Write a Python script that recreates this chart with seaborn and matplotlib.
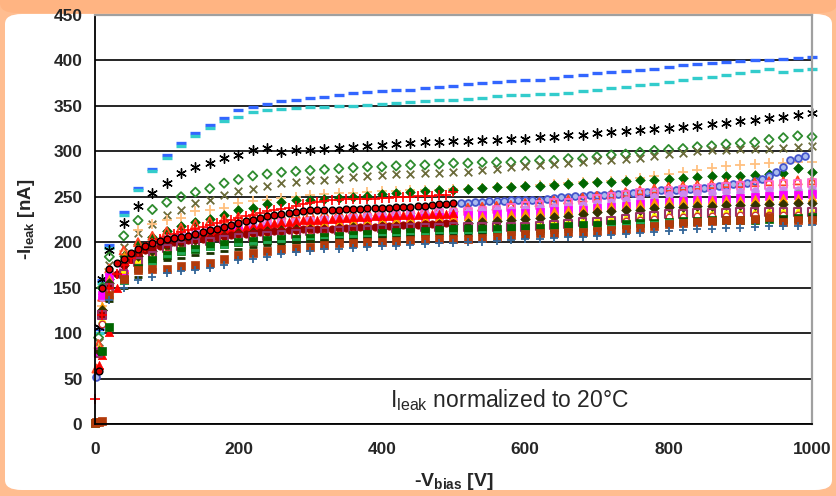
import numpy as np
import matplotlib
matplotlib.use("Agg")
import matplotlib.pyplot as plt
import seaborn as sns
from matplotlib.patches import FancyBboxPatch

nan = np.nan

# ---------------- data ----------------
# voltage grids (V)
V20 = [0, 2, 5, 10, 20] + list(range(40, 1001, 20))          # 54 points
V10 = [0, 5] + list(range(10, 501, 10))                       # 52 points
V_BLUE_CIRC = [2] + list(range(510, 991, 10))                 # 50 points

blue_dash = [nan, nan, 104, 158, 197,
             233, 260, 281, 296, 309, 320, 329, 337, 345,
             349, 352, 355, 357, 359, 360, 362, 364, 365, 366,
             367, 368, 370, 371, 372, 374, 375, 376, 377, 378,
             379, 381, 383, 384, 386, 387, 388, 389, 391, 393,
             395, 396, 397, 398, 399, 400, 401, 402, 403, 404]
cyan_dash = [nan, nan, 100, 155, 194,
             230, 257, 278, 293, 306, 317, 326, 333, 338,
             343, 346, 347, 348, 349, 349, 350, 350, 351, 352,
             353, 354, 355, 356, 357, 358, 359, 361, 362, 362,
             363, 363, 364, 366, 368, 370, 371, 373, 374, 376,
             378, 381, 382, 384, 386, 388, 391, 387, 389, 391]
black_ast = [nan, nan, 107, 160, 191,
             221, 240, 254, 265, 276, 283, 287, 293, 296,
             301, 304, 299, 301, 302, 303, 304, 305, 306, 307,
             308, 309, 310, 310, 311, 311, 312, 313, 314, 314,
             316, 316, 318, 318, 320, 321, 322, 323, 325, 326,
             327, 328, 330, 331, 333, 335, 337, 338, 340, 342]
green_diam_open = [nan, nan, 95, 150, 184,
                   207, 224, 236, 244, 250, 255, 259, 265, 269,
                   273, 275, 277, 278, 279, 280, 281, 282, 283, 283,
                   284, 285, 285, 286, 287, 287, 288, 288, 288, 289,
                   290, 290, 292, 292, 294, 296, 297, 299, 301, 302,
                   303, 305, 306, 308, 309, 310, 313, 315, 317, 316]
olive_x = [nan, nan, 90, 140, 175,
           195, 210, 220, 230, 236, 243, 246, 252, 256,
           259, 262, 265, 266, 268, 269, 270, 272, 273, 274,
           275, 275, 276, 276, 277, 277, 279, 281, 283, 284,
           285, 286, 287, 288, 290, 291, 292, 293, 295, 297,
           298, 300, 301, 302, 303, 303, 303, 304, 305, 306]
lorange_plus = [nan, nan, 85, 130, 170,
                190, 213, 220, 225, 227, 234, 235, 238, 243,
                245, 246, 249, 250, 252, 253, 254, 254, 255, 256,
                256, 257, 258, 258, 259, 259, 260, 261, 261, 262,
                263, 264, 265, 266, 266, 267, 269, 271, 273, 275,
                277, 280, 282, 284, 285, 286, 287, 287, 288, 288]
dgreen_diam = [nan, nan, 80, 125, 160,
               185, 198, 206, 212, 218, 222, 226, 230, 235,
               238, 242, 244, 246, 247, 248, 249, 250, 251, 253,
               254, 255, 256, 257, 258, 259, 260, 261, 261, 262,
               262, 263, 264, 265, 266, 266, 267, 268, 269, 270,
               271, 272, 273, 273, 273, 274, 275, 276, 282, 277]
orange_otri = [nan, 61, 88, 140, 171,
               191, 200, 207, 212, 216, 220, 223, 226, 228,
               229, 230, 230, 231, 232, 232, 233, 233, 234, 235,
               235, 236, 236, 237, 238, 238, 239, 240, 241, 243,
               244, 246, 247, 249, 251, 253, 255, 257, 259, 261,
               262, 263, 264, 265, 265, 266, 267, 267, 268, 268]
pink_osq = [nan, nan, 80, 120, 150,
            170, 185, 195, 200, 205, 209, 212, 215, 218,
            219, 220, 221, 222, 223, 224, 225, 226, 227, 228,
            229, 230, 231, 232, 233, 234, 235, 236, 238, 240,
            241, 243, 244, 246, 248, 250, 252, 254, 255, 257,
            258, 259, 260, 261, 262, 262, 263, 264, 264, 265]
violet_circ = [nan, nan, nan, 140, 165,
               180, 190, 196, 205, 208, 210, 213, 216, 218,
               219, 220, 221, 222, 225, 226, 227, 228, 229, 230,
               230, 231, 231, 232, 233, 233, 234, 235, 236, 237,
               238, 239, 240, 241, 243, 244, 246, 248, 250, 252,
               253, 254, 254, 255, 255, 256, 257, 258, 258, 259]
grey_circ = [nan, nan, nan, nan, 160,
             175, 185, 192, 198, 202, 206, 209, 212, 214,
             215, 216, 217, 218, 219, 220, 221, 222, 223, 224,
             225, 225, 226, 227, 228, 228, 229, 230, 231, 232,
             233, 234, 235, 236, 238, 239, 241, 242, 244, 245,
             246, 247, 248, 249, 250, 251, 252, 253, 254, 255]
magenta_sq = [nan, nan, 80, 142, 162,
              165, 180, 190, 200, 203, 206, 208, 210, 212,
              213, 214, 215, 216, 218, 219, 220, 221, 222, 224,
              225, 226, 227, 228, 229, 230, 230, 231, 232, 232,
              233, 234, 235, 236, 238, 239, 240, 242, 243, 244,
              245, 246, 247, 248, 249, 250, 251, 252, 252, 253]
orange_tri = [nan, nan, 84, 130, 160,
              185, 193, 198, 205, 207, 210, 212, 214, 216,
              217, 218, 219, 220, 222, 222, 223, 224, 225, 226,
              226, 227, 227, 228, 228, 229, 229, 230, 231, 232,
              233, 234, 235, 237, 239, 240, 241, 242, 244, 245,
              245, 246, 246, 247, 247, 248, 248, 249, 249, 250]
dolive_diam = [nan, nan, 80, 125, 155,
               175, 185, 190, 196, 199, 202, 205, 207, 210,
               211, 212, 213, 214, 215, 215, 216, 217, 217, 218,
               218, 219, 219, 220, 220, 221, 222, 223, 224, 226,
               227, 228, 229, 231, 233, 234, 235, 236, 238, 239,
               239, 240, 240, 241, 241, 241, 242, 242, 243, 243]
yellow_tri = [nan, nan, nan, 115, 150,
              170, 182, 190, 197, 200, 203, 206, 208, 210,
              211, 212, 213, 214, 216, 216, 217, 218, 219, 220,
              220, 221, 221, 222, 222, 222, 222, 222, 222, 222,
              223, 224, 225, 226, 227, 228, 229, 230, 231, 232,
              232, 233, 233, 234, 234, 235, 235, 235, 236, 236]
magsq_open = [nan, nan, 78, 120, 150,
              165, 178, 185, 193, 196, 199, 201, 203, 205,
              206, 207, 208, 209, 212, 212, 213, 214, 214, 215,
              215, 216, 216, 216, 217, 217, 217, 217, 217, 217,
              218, 219, 220, 222, 223, 224, 226, 228, 229, 231,
              231, 232, 232, 232, 233, 233, 233, 233, 233, 233]
white_circ = [nan, nan, nan, 110, 145,
              158, 170, 178, 188, 191, 194, 196, 198, 200,
              201, 202, 203, 205, 207, 207, 208, 209, 209, 210,
              210, 211, 211, 212, 212, 212, 212, 213, 213, 213,
              214, 215, 216, 218, 220, 221, 223, 225, 226, 228,
              228, 229, 229, 229, 230, 230, 230, 230, 230, 230]
dgreen_sq = [1, nan, nan, 80, 107,
             158, 172, 180, 186, 190, 193, 196, 198, 200,
             201, 202, 203, 204, 205, 206, 207, 208, 209, 210,
             211, 211, 212, 213, 214, 214, 215, 215, 216, 216,
             216, 217, 218, 219, 219, 220, 220, 221, 221, 222,
             223, 223, 224, 224, 225, 225, 226, 226, 227, 228]
green_dash = [nan, nan, nan, nan, 140,
              155, 168, 176, 185, 188, 191, 193, 195, 198,
              199, 200, 201, 203, 204, 205, 206, 207, 207, 208,
              208, 209, 209, 210, 210, 210, 211, 211, 211, 212,
              212, 213, 214, 215, 216, 218, 219, 221, 222, 224,
              224, 225, 225, 226, 226, 226, 227, 227, 227, 227]
dark_dash = [nan, nan, nan, nan, 135,
             150, 162, 170, 180, 183, 186, 188, 190, 193,
             195, 197, 198, 200, 201, 202, 203, 204, 205, 206,
             206, 207, 207, 208, 208, 208, 209, 209, 209, 209,
             210, 211, 212, 213, 214, 216, 217, 219, 220, 222,
             222, 223, 224, 225, 226, 227, 227, 228, 228, 229]
brown_sq = [1, 2, 2, 3, 142,
            160, 169, 170, 171, 174, 175, 177, 181, 186,
            188, 190, 193, 194, 195, 197, 199, 199, 200, 200,
            201, 202, 203, 203, 203, 204, 205, 206, 208, 209,
            210, 210, 211, 211, 212, 213, 215, 216, 218, 220,
            221, 222, 223, 224, 225, 226, 228, 222, 224, 225]
blue_plus = [nan, nan, nan, nan, 136,
             150, 158, 162, 166, 168, 169, 172, 175, 180,
             182, 184, 187, 189, 190, 192, 193, 194, 195, 196,
             196, 197, 198, 199, 199, 200, 200, 201, 202, 203,
             204, 205, 206, 206, 207, 208, 209, 210, 211, 212,
             213, 214, 215, 216, 216, 217, 218, 218, 218, 219]

# dense series measured every 10 V up to 500 V
red_plus = [27, 60,
            120, 150, 165, 175, 183, 190, 195, 199, 203, 206,
            209, 211, 213, 215, 217, 219, 221, 223, 225, 227,
            229, 230, 232, 234, 235, 237, 238, 240, 242, 243,
            244, 245, 246, 247, 248, 248, 248, 248, 248, 249,
            249, 250, 250, 250, 251, 251, 251, 252, 252, 255]
redblack_circ = [nan, 58,
                 150, 170, 177, 182, 188, 193, 196, 199, 201, 203,
                 205, 206, 207, 209, 211, 213, 215, 217, 219, 221,
                 223, 225, 227, 229, 230, 231, 232, 233, 234, 235,
                 235, 236, 236, 236, 237, 237, 237, 238, 238, 238,
                 238, 239, 239, 239, 240, 240, 241, 242, 242, 243]
red_tri = [nan, 65,
           76, 101, 150, 170, 182, 190, 196, 200, 203, 205,
           207, 208, 209, 210, 211, 212, 213, 214, 215, 216,
           217, 218, 219, 220, 221, 222, 222, 223, 224, 225,
           225, 226, 226, 227, 227, 228, 228, 228, 229, 229,
           229, 230, 230, 230, 230, 231, 231, 231, 231, 232]
dkred_circ = [nan, nan,
              120, 150, 165, 175, 182, 187, 191, 194, 196, 198,
              200, 201, 202, 203, 204, 205, 206, 207, 208, 209,
              209, 210, 211, 211, 212, 212, 213, 213, 214, 214,
              215, 215, 215, 216, 216, 216, 217, 217, 217, 218,
              218, 218, 219, 219, 219, 220, 220, 220, 221, 221]

blue_circ = [52,
             243, 243, 244, 244, 245, 245, 245, 246, 246, 246,
             247, 247, 248, 249, 250, 250, 251, 251, 252, 252,
             252, 253, 253, 254, 254, 255, 255, 256, 257, 257,
             258, 259, 259, 260, 260, 261, 262, 263, 264, 264,
             265, 267, 270, 273, 277, 283, 290, 293, 295]

y_ticks = [0, 50, 100, 150, 200, 250, 300, 350, 400, 450]
x_ticks = [0, 200, 400, 600, 800, 1000]

# ---------------- style ----------------
sns.set_style("white")
plt.rcParams['font.family'] = ['Liberation Sans', 'DejaVu Sans']
plt.rcParams['mathtext.fontset'] = 'custom'
plt.rcParams['mathtext.rm'] = 'Liberation Sans'
plt.rcParams['mathtext.it'] = 'Liberation Sans:italic'
plt.rcParams['mathtext.bf'] = 'Liberation Sans:bold'

W, H = 837, 496
fig = plt.figure(figsize=(W / 100, H / 100), dpi=100)
fig.patch.set_facecolor('#FFBD90')

# orange header band and white rounded panel behind the axes
band = FancyBboxPatch((0, 1 - 13 / H), 1, 13 / H + 0.02,
                      boxstyle="round,pad=0,rounding_size=0.02",
                      transform=fig.transFigure, facecolor='#FFB482',
                      edgecolor='none', zorder=-11)
fig.patches.append(band)
panel = FancyBboxPatch((5 / W, 6 / H), (W - 10) / W, (H - 20) / H,
                       boxstyle="round,pad=0,rounding_size=0.02",
                       transform=fig.transFigure, facecolor='white',
                       edgecolor='none', zorder=-10)
fig.patches.append(panel)

ax = fig.add_axes([95 / W, 1 - 424 / H, (812 - 95) / W, (424 - 15) / H])
ax.set_facecolor('white')
ax.set_zorder(1)

def pts(x, y, **kw):
    sns.scatterplot(x=x, y=y, ax=ax, clip_on=False, legend=False, **kw)

def hollow(x, y, marker, col, s, lw=1.2):
    pts(x, y, marker=marker, s=s, color=col, facecolor='none',
        edgecolor=col, linewidth=lw)

def filled(x, y, marker, col, s, ec=None, lw=0.5):
    pts(x, y, marker=marker, s=s, color=col, edgecolor=ec if ec else col,
        linewidth=lw)

def line_mk(x, y, marker, col, s, lw=1.2):
    pts(x, y, marker=marker, s=s, color=col, linewidth=lw)

line_mk(V20, blue_dash, '_', '#3366FF', 45, 2.4)
line_mk(V20, cyan_dash, '_', '#33CCCC', 45, 2.4)
line_mk(V20, black_ast, (6, 2, 0), 'black', 48, 1.0)
hollow(V20, green_diam_open, 'D', '#2E8B2E', 22, 1.3)
line_mk(V20, olive_x, 'x', '#6B6B3A', 30, 1.3)
line_mk(V20, lorange_plus, '+', '#FFC080', 45, 1.3)
filled(V20, dgreen_diam, 'D', '#006600', 24)
filled(V_BLUE_CIRC, blue_circ, 'o', '#AABBEE', 24, ec='#4455CC', lw=1.3)
hollow(V20, orange_otri, '^', '#FF4422', 34, 1.3)
hollow(V20, pink_osq, 's', '#FF66CC', 28, 1.3)
filled(V20, violet_circ, 'o', '#CC88EE', 30)
filled(V20, grey_circ, 'o', '#999999', 26)
filled(V20, magenta_sq, 's', '#FF00FF', 28)
filled(V20, orange_tri, '^', '#FF9900', 36)
filled(V10, red_tri, '^', '#FF0000', 36)
filled(V20, yellow_tri, '^', '#FFFF00', 30)
filled(V20, dolive_diam, 'D', '#333300', 24)
filled(V10, dkred_circ, 'o', '#990000', 28)
hollow(V20, magsq_open, 's', '#993366', 30, 1.5)
filled(V20, white_circ, 'o', 'white', 22, ec='#CC3333', lw=1.0)
filled(V20, dgreen_sq, 's', '#006600', 30)
line_mk(V20, green_dash, '_', '#22AA55', 36, 2.0)
line_mk(V20, dark_dash, '_', '#1A3300', 36, 2.0)
filled(V20, brown_sq, 's', '#B23A0A', 32)
line_mk(V20, blue_plus, '+', '#336699', 40, 1.3)
line_mk(V10, red_plus, '+', '#FF0000', 45, 1.2)
filled(V10, redblack_circ, 'o', '#DD0000', 24, ec='black', lw=1.0)

ax.set_xlim(0, 1000)
ax.set_ylim(0, 450)
ax.set_xticks(x_ticks)
ax.set_yticks(y_ticks)
ax.set_xticklabels([str(t) for t in x_ticks], fontsize=12.5, fontweight='bold')
ax.set_yticklabels([str(t) for t in y_ticks], fontsize=12.5, fontweight='bold')
ax.tick_params(axis='both', direction='out', length=5, width=1.2,
               color='black', pad=4)
ax.tick_params(axis='x', pad=8)
ax.yaxis.grid(True, color='black', linewidth=1.2)
ax.xaxis.grid(False)
ax.set_axisbelow(True)
for side in ['left', 'bottom']:
    ax.spines[side].set_color('black')
    ax.spines[side].set_linewidth(1.3)
for side in ['top', 'right']:
    ax.spines[side].set_color('#A0A0A0')
    ax.spines[side].set_linewidth(1.6)

ax.set_ylabel(r'-I$_{\mathbf{leak}}$ [nA]', fontsize=13.5, fontweight='bold',
              labelpad=12)
ax.set_xlabel(r'-V$_{\mathbf{bias}}$ [V]', fontsize=14, fontweight='bold',
              labelpad=10)
ax.text(411, 26, r'I$_{\mathrm{leak}}$ normalized to 20°C', fontsize=16.5,
        ha='left', va='center')

fig.savefig('out.png', dpi=100, facecolor=fig.get_facecolor())
